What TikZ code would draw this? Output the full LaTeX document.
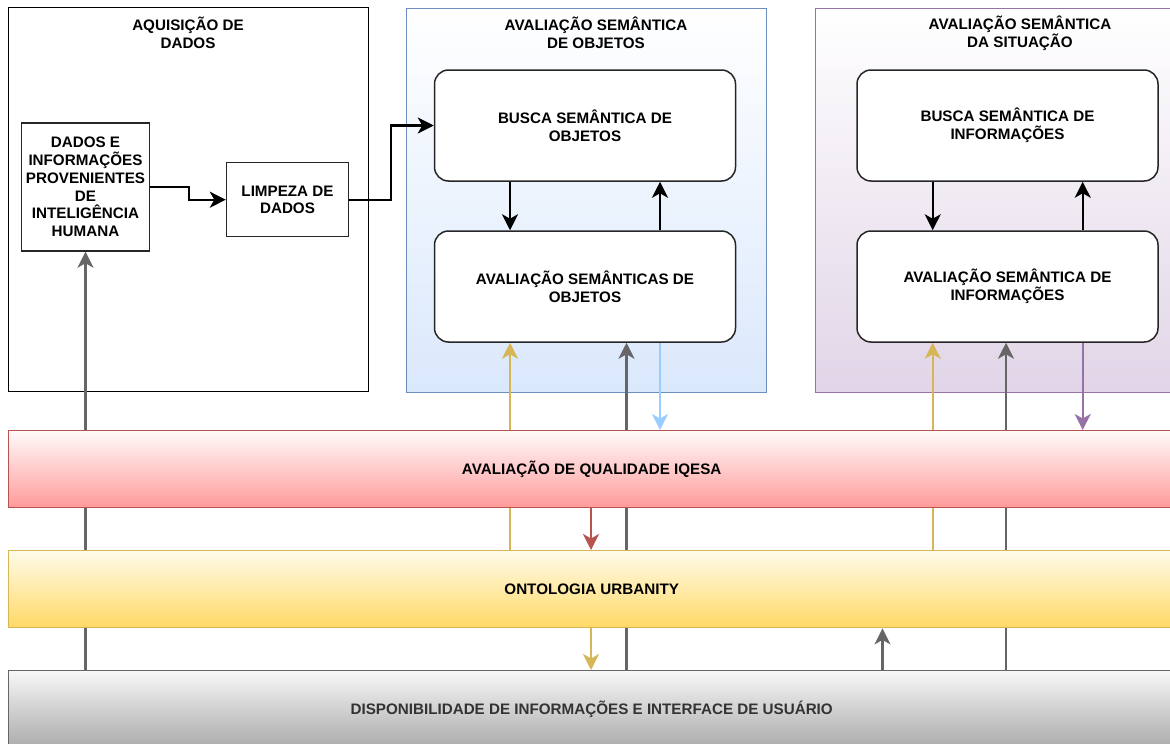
\documentclass[tikz,border=0pt]{standalone}
\usepackage{fontspec}
\setmainfont{Liberation Sans}
\usetikzlibrary{arrows.meta}
\pgfdeclarelayer{back}
\pgfdeclarelayer{mid}
\pgfsetlayers{back,mid,main}

\definecolor{objB}{HTML}{6C8EBF}
\definecolor{objF}{HTML}{DAE8FC}
\definecolor{sitB}{HTML}{9673A6}
\definecolor{sitF}{HTML}{E1D5E7}
\definecolor{redB}{HTML}{B85450}
\definecolor{redT}{HTML}{FFFAFA}
\definecolor{redF}{HTML}{FF9A9A}
\definecolor{yelB}{HTML}{D6B656}
\definecolor{yelT}{HTML}{FFFBEA}
\definecolor{yelF}{HTML}{FFD966}
\definecolor{gryB}{HTML}{666666}
\definecolor{gryT}{HTML}{F7F7F7}
\definecolor{gryF}{HTML}{ABABAB}
\definecolor{gryTxt}{HTML}{333333}
\definecolor{skyL}{HTML}{99CCFF}

\begin{document}
\begin{tikzpicture}[x=1pt,y=-1pt,
  lbl/.style={font=\fontsize{15.2}{17.7}\selectfont\bfseries, align=center, inner sep=0pt},
  frame/.style={draw, line width=1.4pt, minimum width=360pt, minimum height=384pt,
    inner sep=0pt, anchor=north west},
  card/.style={lbl, draw=black!85, fill=white, line width=1.5pt, rounded corners=14pt,
    minimum width=301pt, minimum height=111pt},
  plain/.style={lbl, draw=black!85, fill=white, line width=1.4pt},
  band/.style={lbl, draw, line width=1.4pt, minimum width=1166pt, minimum height=77pt,
    anchor=north west},
  link/.style={line width=2.2pt, -{Stealth[length=16pt,width=16pt,inset=4.5pt]}},
]
\useasboundingbox (0,0) rectangle (1170,744);

% column frames
\begin{pgfonlayer}{back}
  \fill[white] (0,0) rectangle (1170,744);
  \node[frame, draw=black, fill=white] (acq) at (8,7) {};
  \node[frame, draw=objB, top color=white, bottom color=objF] (obj) at (405.5,7.5) {};
  \node[frame, draw=sitB, top color=white, bottom color=sitF] (sit) at (815,7.5) {};
\end{pgfonlayer}

% frame titles
\node[lbl] (tacq) at (188,33) {AQUISIÇÃO DE\\DADOS};
\node[lbl] (tobj) at (596,33) {AVALIAÇÃO SEMÂNTICA\\DE OBJETOS};
\node[lbl] (tsit) at (1020,33) {AVALIAÇÃO SEMÂNTICA\\DA SITUAÇÃO};

% process boxes
\node[plain, minimum width=128pt, minimum height=128pt] (src) at (85.5,187)
  {DADOS E\\INFORMAÇÕES\\PROVENIENTES\\DE\\INTELIGÊNCIA\\HUMANA};
\node[plain, minimum width=122pt, minimum height=74pt] (clean) at (287.5,199.7)
  {LIMPEZA DE\\DADOS};
\node[card] (bo) at (585,125.5) {BUSCA SEMÂNTICA DE\\OBJETOS};
\node[card] (ao) at (585,286.5) {AVALIAÇÃO SEMÂNTICAS DE\\OBJETOS};
\node[card] (bi) at (1007.5,125.5) {BUSCA SEMÂNTICA DE\\INFORMAÇÕES};
\node[card] (ai) at (1007.5,286.5) {AVALIAÇÃO SEMÂNTICA DE\\INFORMAÇÕES};

% horizontal layers
\node[band, draw=redB, top color=redT, bottom color=redF] (iq) at (8,430)
  {AVALIAÇÃO DE QUALIDADE IQESA};
\node[band, draw=yelB, top color=yelT, bottom color=yelF] (ont) at (8,550)
  {ONTOLOGIA URBANITY};
\node[band, draw=gryB, top color=gryT, bottom color=gryF, text=gryTxt] (ui) at (8,670)
  {DISPONIBILIDADE DE INFORMAÇÕES E INTERFACE DE USUÁRIO};

% x positions of the vertical connectors
\coordinate (xoa) at (510,0);
\coordinate (xog) at (626.5,0);
\coordinate (xob) at (660,0);
\coordinate (xmid) at (591,0);
\coordinate (xup) at (882.5,0);
\coordinate (xsa) at (932.7,0);
\coordinate (xsg) at (1006,0);
\coordinate (xsp) at (1082.7,0);

% connectors running behind the layers
\begin{pgfonlayer}{mid}
  \draw[link, gryB] (ui.north -| src.south) -- (src.south);
  \draw[link, yelB] (ont.north -| xoa) -- (ao.south -| xoa);
  \draw[link, gryB] (ui.north -| xog) -- (ao.south -| xog);
  \draw[link, skyL] (ao.south -| xob) -- (iq.north -| xob);
  \draw[link, redB] (iq.south -| xmid) -- (ont.north -| xmid);
  \draw[link, yelB] (ont.south -| xmid) -- (ui.north -| xmid);
  \draw[link, gryB] (ui.north -| xup) -- (ont.south -| xup);
  \draw[link, yelB] (ont.north -| xsa) -- (ai.south -| xsa);
  \draw[link, gryB] (ui.north -| xsg) -- (ai.south -| xsg);
  \draw[link, sitB] (ai.south -| xsp) -- (iq.north -| xsp);
\end{pgfonlayer}

% data flow
\draw[link] (src.east) -- ++(38.5,0) |- (clean.west);
\draw[link] (clean.east) -- ++(42,0) |- (bo.west);
\draw[link] (bo.south -| xoa) -- (ao.north -| xoa);
\draw[link] (ao.north -| xob) -- (bo.south -| xob);
\draw[link] (bi.south -| xsa) -- (ai.north -| xsa);
\draw[link] (ai.north -| xsp) -- (bi.south -| xsp);
\end{tikzpicture}
\end{document}
